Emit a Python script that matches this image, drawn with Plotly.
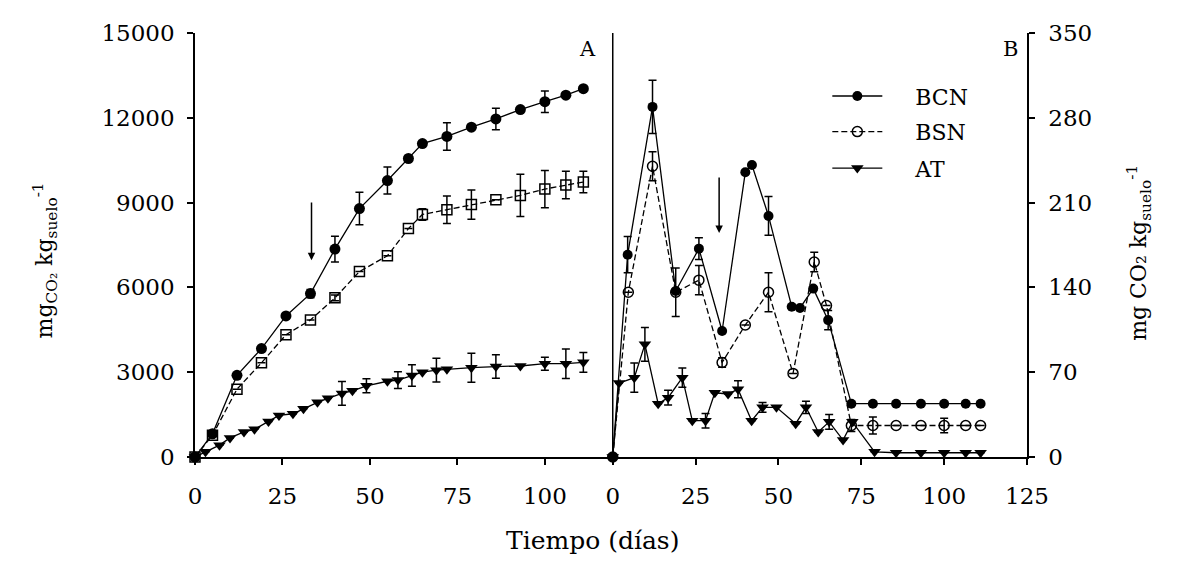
import plotly.graph_objects as go

# ---------------- Panel A (cumulative) ----------------
day_A = [0, 5, 12, 19, 26, 33, 40, 47, 55, 61, 65, 72, 79, 86, 93, 100, 106, 111]
bcn_A = [0, 820, 2890, 3835, 4990, 5780, 7355, 8790, 9780, 10560, 11090, 11340, 11670, 11960, 12290, 12570, 12800, 13030]
bcn_A_err = [0, 0, 0, 0, 0, 150, 455, 577, 480, 0, 0, 485, 0, 380, 0, 380, 0, 0]
bsn_A = [0, 770, 2400, 3333, 4325, 4850, 5630, 6560, 7120, 8080, 8580, 8750, 8930, 9100, 9255, 9480, 9620, 9730]
bsn_A_err = [0, 0, 0, 0, 0, 0, 100, 0, 0, 0, 200, 485, 520, 0, 750, 660, 485, 380]

day_AT_A = [0, 3, 7, 10, 14, 17, 21, 24, 28, 31, 35, 38, 42, 45, 49, 55, 58, 62, 65, 69, 72, 79, 86, 93, 100, 106, 111]
at_A = [0, 185, 420, 675, 885, 980, 1260, 1470, 1530, 1710, 1935, 2075, 2250, 2340, 2520,
        2680, 2720, 2880, 3000, 3070, 3100, 3160, 3200, 3220, 3300, 3300, 3350]
at_A_err = [0, 0, 0, 0, 0, 0, 0, 0, 0, 0, 0, 0, 420, 0, 250, 0, 300, 380, 0, 420, 0, 513, 415, 0, 233, 525, 350]

# ---------------- Panel B (daily rate) ----------------
day_B_bcn = [0, 4.5, 12, 19, 26, 33, 40, 42, 47, 54, 56.5, 60.5, 65, 72, 78.5, 85.5, 93, 100, 106.5, 111]
bcn_B = [0, 167, 289, 137, 172, 104, 235, 241, 199, 124, 123, 139, 113, 44, 44, 44, 44, 44, 44, 44]
bcn_B_err = [0, 15, 22, 0, 9, 0, 0, 0, 16, 0, 0, 0, 8, 0, 0, 0, 0, 0, 0, 0]

day_B_bsn = [0, 4.7, 12, 19, 26, 33, 40, 47, 54.4, 60.8, 64.5, 72, 78.5, 85.5, 93, 100, 106.5, 111]
bsn_B = [0, 136, 240, 136, 146, 78, 109, 136, 69, 161, 125, 26, 26, 26, 26, 26, 26, 26]
bsn_B_err = [0, 0, 12, 20, 12, 4, 0, 16, 0, 8, 0, 5, 7, 0, 0, 6, 0, 0]

day_B_at = [0, 1.9, 6.5, 9.7, 13.7, 16.7, 21, 24, 28, 30.8, 34.8, 37.8, 41.9, 45.2, 49.4, 55.2,
            58.3, 62, 65.3, 69.5, 72.3, 79, 85.5, 93, 100, 106.5, 111]
at_B = [0, 61, 65.5, 93, 44, 49, 65.5, 30, 30, 53, 52, 56, 30, 41, 41, 27.5,
        41, 20.6, 29, 14, 29, 4.3, 3.5, 3.5, 3.5, 3.5, 3.5]
at_B_err = [0, 0, 12, 14, 0, 6, 8, 0, 6, 0, 0, 7, 0, 4, 0, 0, 5, 0, 6, 0, 0, 0, 0, 0, 0, 0, 0]

x_ticks_A = [0, 25, 50, 75, 100]
x_ticks_B = [0, 25, 50, 75, 100, 125]
y_ticks_A = [0, 3000, 6000, 9000, 12000, 15000]
y_ticks_B = [0, 70, 140, 210, 280, 350]

FONT = "DejaVu Serif"
BLK = "black"
NB = "\u00a0"


def err(vals):
    return dict(type="data", array=vals, visible=True, color=BLK, thickness=1.5, width=4)


fig = go.Figure()

# Panel A traces
fig.add_trace(go.Scatter(x=day_A, y=bcn_A, mode="lines+markers", error_y=err(bcn_A_err),
                         line=dict(color=BLK, width=1.3),
                         marker=dict(symbol="circle", size=11, color=BLK),
                         xaxis="x", yaxis="y", showlegend=False, cliponaxis=False))
fig.add_trace(go.Scatter(x=day_A, y=bsn_A, mode="lines+markers", error_y=err(bsn_A_err),
                         line=dict(color=BLK, width=1.3, dash="6px,3px"),
                         marker=dict(symbol="square-open", size=10, color=BLK, line=dict(width=1.5)),
                         xaxis="x", yaxis="y", showlegend=False, cliponaxis=False))
fig.add_trace(go.Scatter(x=day_AT_A, y=at_A, mode="lines+markers", error_y=err(at_A_err),
                         line=dict(color=BLK, width=1.3),
                         marker=dict(symbol="triangle-down", size=11, color=BLK),
                         xaxis="x", yaxis="y", showlegend=False, cliponaxis=False))

# Panel B traces (with legends)
fig.add_trace(go.Scatter(x=day_B_bcn, y=bcn_B, mode="lines+markers", error_y=err(bcn_B_err),
                         name=NB * 4 + "BCN", line=dict(color=BLK, width=1.3),
                         marker=dict(symbol="circle", size=10, color=BLK),
                         xaxis="x2", yaxis="y2", legend="legend", cliponaxis=False))
fig.add_trace(go.Scatter(x=day_B_bsn, y=bsn_B, mode="lines+markers", error_y=err(bsn_B_err),
                         name=NB * 4 + "BSN", line=dict(color=BLK, width=1.3, dash="6px,3px"),
                         marker=dict(symbol="circle-open", size=10, color=BLK, line=dict(width=1.5)),
                         xaxis="x2", yaxis="y2", legend="legend2", cliponaxis=False))
fig.add_trace(go.Scatter(x=day_B_at, y=at_B, mode="lines+markers", error_y=err(at_B_err),
                         name=NB * 4 + "AT", line=dict(color=BLK, width=1.3),
                         marker=dict(symbol="triangle-down", size=11, color=BLK),
                         xaxis="x2", yaxis="y2", legend="legend3", cliponaxis=False))

axis_common = dict(showline=True, linecolor=BLK, linewidth=1.5, ticks="outside", ticklen=6,
                   tickwidth=1.5, tickcolor=BLK, showgrid=False, zeroline=False,
                   tickfont=dict(family=FONT, size=23, color=BLK))

# page body adds an 8px margin; compensate so the plot area lands at x 195-1027.5, y 28-457
split = 418 / 832.5
fig.update_layout(
    width=1178, height=559,
    margin=dict(l=187, r=158.5, t=20, b=110),
    paper_bgcolor="white", plot_bgcolor="white",
    font=dict(family=FONT, size=21, color=BLK),
    xaxis=dict(domain=[0, split], range=[0, 119.4], tickvals=x_ticks_A, anchor="y",
               ticklabelstandoff=12, **axis_common),
    yaxis=dict(range=[0, 15000], tickvals=y_ticks_A, tickformat="d", anchor="x",
               ticklabelstandoff=8, **axis_common),
    xaxis2=dict(domain=[split, 1], range=[0, 125], tickvals=x_ticks_B, anchor="y2",
                ticklabelstandoff=12, **axis_common),
    yaxis2=dict(range=[0, 350], tickvals=y_ticks_B, anchor="x2", side="right",
                ticklabelstandoff=9, **axis_common),
)

leg_common = dict(font=dict(family=FONT, size=22, color=BLK), bgcolor="rgba(0,0,0,0)",
                  xanchor="left", yanchor="middle", itemwidth=50, x=0.7600)
fig.update_layout(
    legend=dict(y=0.851, **leg_common),
    legend2=dict(y=0.767, **leg_common),
    legend3=dict(y=0.681, **leg_common),
)

# divider between panels (left edge of panel B)
fig.add_shape(type="line", xref="x2 domain", yref="y domain", x0=0, x1=0, y0=0, y1=1,
              line=dict(color=BLK, width=1.5))

# arrows marking the event
fig.add_annotation(x=33.3, y=6960, ax=33.3, ay=9060, xref="x", yref="y", axref="x", ayref="y",
                   text="", showarrow=True, arrowhead=2, arrowsize=1, arrowwidth=1.5, arrowcolor=BLK)
fig.add_annotation(x=32.1, y=185, ax=32.1, ay=232, xref="x2", yref="y2", axref="x2", ayref="y2",
                   text="", showarrow=True, arrowhead=2, arrowsize=1, arrowwidth=1.5, arrowcolor=BLK)

# panel labels
fig.add_annotation(x=0.964, y=0.962, xref="x domain", yref="y domain", text="A", showarrow=False,
                   xanchor="right", yanchor="middle", font=dict(family=FONT, size=21, color=BLK))
fig.add_annotation(x=0.982, y=0.962, xref="x2 domain", yref="y domain", text="B", showarrow=False,
                   xanchor="right", yanchor="middle", font=dict(family=FONT, size=21, color=BLK))

# axis titles
fig.add_annotation(x=(45 - 195) / 832.5, y=(457 - 258) / 429, xref="paper", yref="paper",
                   text="mg<sub>CO₂</sub> kg<sub>suelo</sub><sup>-1</sup>", textangle=-90,
                   xanchor="center", yanchor="middle",
                   showarrow=False, font=dict(family=FONT, size=22, color=BLK))
fig.add_annotation(x=(1140 - 195) / 832.5, y=(457 - 250) / 429, xref="paper", yref="paper",
                   text="mg CO₂ kg<sub>suelo</sub><sup>-1</sup>", textangle=-90,
                   xanchor="center", yanchor="middle",
                   showarrow=False, font=dict(family=FONT, size=22, color=BLK))
fig.add_annotation(x=(593 - 195) / 832.5, y=(457 - 541) / 429, xref="paper", yref="paper",
                   text="Tiempo (días)", showarrow=False, xanchor="center", yanchor="middle",
                   font=dict(family=FONT, size=25, color=BLK))

fig.write_html("out.html")
